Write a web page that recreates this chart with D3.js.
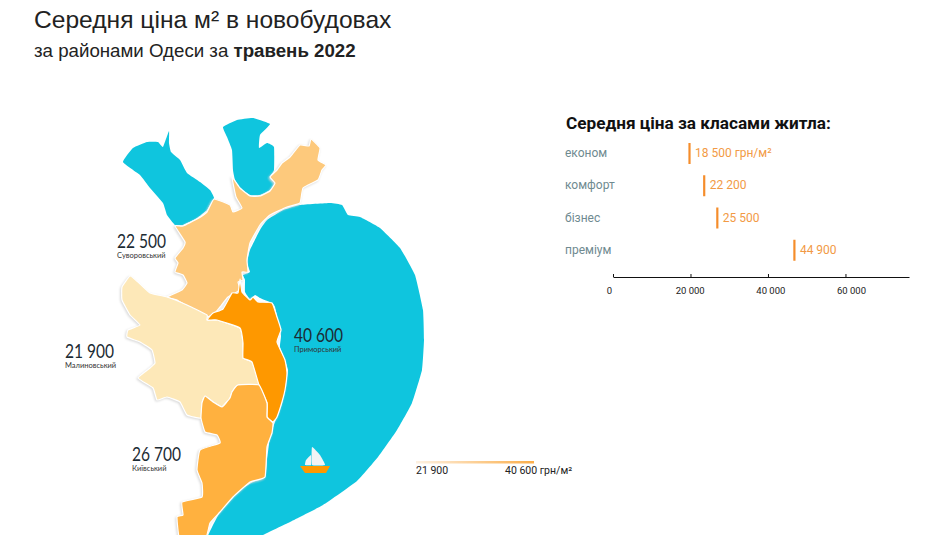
<!DOCTYPE html>
<html lang="uk">
<head>
<meta charset="utf-8">
<title>Середня ціна м² в новобудовах</title>
<script src="https://cdnjs.cloudflare.com/ajax/libs/d3/7.8.5/d3.min.js"></script>
<style>
  body { margin: 0; background: #fff; overflow: hidden; }
  svg { display: block; }
  .land { filter: drop-shadow(-1px 1px 1px #d9d9d9); }
</style>
</head>
<body>
<svg width="952" height="535"></svg>
<script>
// district values
var districts = ['Суворовський', 'Малиновський', 'Приморський', 'Київський'];
var districtPrices = [22500, 21900, 40600, 26700];
var districtColors = ['#fdc97c', '#fde8b8', '#fe9800', '#ffb13f'];
var labelAnchors = [[117, 248], [65, 358], [294, 342], [132, 461]];

// price per housing class
var classes = ['економ', 'комфорт', 'бізнес', 'преміум'];
var classPrices = [18500, 22200, 25500, 44900];
var axisTicks = [0, 20000, 40000, 60000];
var legendRange = [21900, 40600];

// map outlines
var suvorovskyi = [[311,139],[320,148],[318,160],[326,165],[322,170],[318,180],[303,188],[300,203],[287,207],[270,215],[260,225],[250,243],[247,260],[248,272],[242,272],[243,280],[238,282],[240,290],[228,297],[220,307],[215,313],[207,317],[190,308],[177,300],[167,297],[182,290],[187,283],[183,275],[175,272],[178,263],[175,258],[183,248],[185,242],[175,226],[183,226],[197,219],[207,212],[214,199],[230,205],[233,212],[242,208],[236,197],[232,177],[240,188],[250,196],[260,196],[270,191],[275,183],[270,177],[277,170],[282,163],[290,157],[300,145],[309,146]];
var malynivskyi = [[122,287],[130,276],[138,282],[150,293],[167,297],[187,305],[207,315],[207,320],[217,320],[240,328],[243,343],[243,358],[252,362],[259,385],[238,385],[232,392],[230,398],[222,407],[213,402],[205,396],[202,403],[201,418],[187,415],[180,402],[167,397],[157,400],[153,388],[138,378],[150,368],[155,363],[152,350],[140,342],[127,337],[128,330],[140,325],[130,315],[122,300]];
var prymorskyi = [[240,279],[242,292],[250,300],[253,297],[258,302],[272,303],[277,317],[281,330],[277,342],[285,360],[287,373],[285,390],[282,402],[277,417],[273,422],[267,417],[267,403],[259,385],[252,362],[243,358],[243,343],[240,328],[217,320],[207,320],[213,313],[223,309],[232,293],[238,293]];
var kyivskyi = [[205,396],[213,402],[222,407],[230,398],[232,392],[238,385],[259,385],[267,403],[267,417],[273,423],[272,433],[267,447],[265,477],[250,482],[233,497],[220,512],[210,523],[205,540],[180,540],[177,517],[183,515],[182,502],[202,497],[202,483],[197,470],[200,450],[220,443],[217,435],[205,432],[201,418],[202,403]];
var districtShapes = [suvorovskyi, malynivskyi, prymorskyi, kyivskyi];

var seaMain = [[267,220],[283,210],[300,205],[330,203],[342,205],[348,215],[360,217],[380,228],[400,248],[415,275],[423,310],[424,340],[422,370],[412,403],[397,430],[378,457],[357,481],[323,505],[290,522],[263,535],[250,545],[205,545],[220,512],[240,490],[253,482],[265,477],[267,460],[270,437],[275,422],[282,403],[288,370],[280,347],[281,335],[275,307],[272,303],[260,298],[255,295],[250,299],[245,292],[245,280],[243,275],[250,272],[247,263],[250,250],[260,230]];
var limanWest = [[123,162],[133,148],[147,142],[158,142],[163,147],[169,131],[169,143],[171,152],[180,160],[187,173],[200,182],[210,190],[214,198],[207,210],[197,218],[183,225],[175,225],[167,215],[163,203],[150,188],[140,175]];
var limanNorth = [[223,127],[237,120],[253,118],[270,124],[260,135],[259,148],[267,143],[274,147],[274,170],[270,177],[275,183],[270,190],[260,195],[250,195],[240,188],[235,180],[233,170],[232,150],[227,137]];
var waterShapes = [seaMain, limanWest, limanNorth];

var boatHull = [[300,466],[330,466],[326,473],[305,473]];
var boatSailBig = [[312,447],[320,455],[325,465],[312,465]];
var boatSailSmall = [[311,455],[306,460],[305,465],[311,465]];

var svg = d3.select('svg');
var fmt = function(v) { return d3.format(',')(v).replace(/,/g, ' '); };

var mapX = d3.scaleIdentity();
var mapY = d3.scaleIdentity();
var outline = d3.line()
    .x(function(d) { return mapX(d[0]); })
    .y(function(d) { return mapY(d[1]); })
    .curve(d3.curveCardinalClosed.tension(0.65));
var straight = d3.line()
    .x(function(d) { return mapX(d[0]); })
    .y(function(d) { return mapY(d[1]); })
    .curve(d3.curveLinearClosed);

// titles
svg.append('text')
    .attr('x', 34).attr('y', 28)
    .style('font', '24.6px "Liberation Sans"')
    .style('fill', '#222')
    .text('Середня ціна м² в новобудовах');
var sub = svg.append('text')
    .attr('x', 34).attr('y', 57)
    .style('font', '18.7px "Liberation Sans"')
    .style('fill', '#222');
sub.append('tspan').text('за районами Одеси за ');
sub.append('tspan').style('font-weight', 'bold').text('травень 2022');

// water
svg.append('g').selectAll('path')
    .data(waterShapes)
    .enter()
    .append('path')
    .attr('d', outline)
    .style('fill', '#0fc5de');

// districts
var districtColor = d3.scaleOrdinal().domain(districts).range(districtColors);
svg.append('g').attr('class', 'land').selectAll('path')
    .data(districts)
    .enter()
    .append('path')
    .attr('d', function(d, i) { return outline(districtShapes[i]); })
    .style('fill', function(d) { return districtColor(d); })
    .style('stroke', '#fff')
    .style('stroke-width', 1.2)
    .style('stroke-linejoin', 'round');

// boat
var boat = svg.append('g');
boat.append('path').attr('d', straight(boatHull)).style('fill', '#fe9800');
boat.append('path').attr('d', outline(boatSailBig)).style('fill', '#f2f4f5');
boat.append('path').attr('d', outline(boatSailSmall)).style('fill', '#f2f4f5');

// district labels
var labels = svg.append('g').selectAll('g')
    .data(districts)
    .enter()
    .append('g')
    .attr('transform', function(d, i) { return 'translate(' + labelAnchors[i] + ')'; })
    .style('fill', '#1c2b33');
labels.append('text')
    .attr('textLength', 49)
    .attr('lengthAdjust', 'spacingAndGlyphs')
    .style('font', '400 18.5px Lato, "Noto Sans"')
    .text(function(d, i) { return fmt(districtPrices[i]); });
labels.append('text')
    .attr('y', 10)
    .style('font', '7.5px Lato, "Noto Sans"')
    .style('fill', '#333')
    .text(function(d) { return d; });

// price by class. Marks sit about 3px right of the axis in the picture, so they get their own scale
var axisX = d3.scaleLinear().domain([0, 76400]).range([613, 909]);
var markX = d3.scaleLinear().domain([0, 75000]).range([616, 914]);
var labelX = d3.scaleLinear().domain([0, 60000]).range([609, 851]);
var rowY = d3.scaleBand().domain(classes).range([137, 266]);

svg.append('text')
    .attr('x', 566).attr('y', 129)
    .style('font', 'bold 17.2px Roboto')
    .style('fill', '#111')
    .text('Середня ціна за класами житла:');

var rows = svg.append('g').selectAll('g')
    .data(classes)
    .enter()
    .append('g');
rows.append('text')
    .attr('x', 565)
    .attr('y', function(d) { return rowY(d) + rowY.bandwidth() / 2 + 4; })
    .style('font', '12px Roboto')
    .style('fill', '#6f8a90')
    .text(function(d) { return d; });
rows.append('line')
    .attr('x1', function(d, i) { return markX(classPrices[i]); })
    .attr('x2', function(d, i) { return markX(classPrices[i]); })
    .attr('y1', function(d) { return rowY(d) + 6; })
    .attr('y2', function(d) { return rowY(d) + 27; })
    .style('stroke', '#f58d2b')
    .style('stroke-width', 2.2);
rows.append('text')
    .attr('x', function(d, i) { return markX(classPrices[i]) + 5.5; })
    .attr('y', function(d) { return rowY(d) + rowY.bandwidth() / 2 + 4; })
    .style('font', '12px Roboto')
    .style('fill', '#f29a45')
    .text(function(d, i) { return fmt(classPrices[i]) + (i === 0 ? ' грн/м²' : ''); });

var axis = svg.append('g')
    .attr('transform', 'translate(0,277)')
    .call(d3.axisBottom(axisX).tickValues(axisTicks).tickSize(-3).tickSizeOuter(0).tickFormat(fmt));
axis.select('.domain').style('stroke', '#111');
axis.selectAll('.tick line').style('stroke', '#111');
axis.selectAll('.tick text')
    .attr('y', 10)
    .attr('dx', function(d) { return labelX(d) - axisX(d); })
    .style('font', '9.5px Roboto')
    .style('fill', '#222');

// legend
var defs = svg.append('defs');
var grad = defs.append('linearGradient').attr('id', 'legendGrad');
grad.append('stop').attr('offset', '0%').attr('stop-color', '#fdf1e2');
grad.append('stop').attr('offset', '100%').attr('stop-color', '#fbae4a');
var legendX = d3.scaleLinear().domain(legendRange).range([416, 534]);
svg.append('rect')
    .attr('x', legendX(legendRange[0]))
    .attr('y', 461)
    .attr('width', legendX(legendRange[1]) - legendX(legendRange[0]))
    .attr('height', 2.5)
    .style('fill', 'url(#legendGrad)');
svg.append('text')
    .attr('x', 416).attr('y', 474)
    .style('font', '10.5px Roboto').style('fill', '#222')
    .text(fmt(legendRange[0]));
svg.append('text')
    .attr('x', 505).attr('y', 474)
    .style('font', '10.5px Roboto').style('fill', '#222')
    .text(fmt(legendRange[1]) + ' грн/м²');
</script>
</body>
</html>
